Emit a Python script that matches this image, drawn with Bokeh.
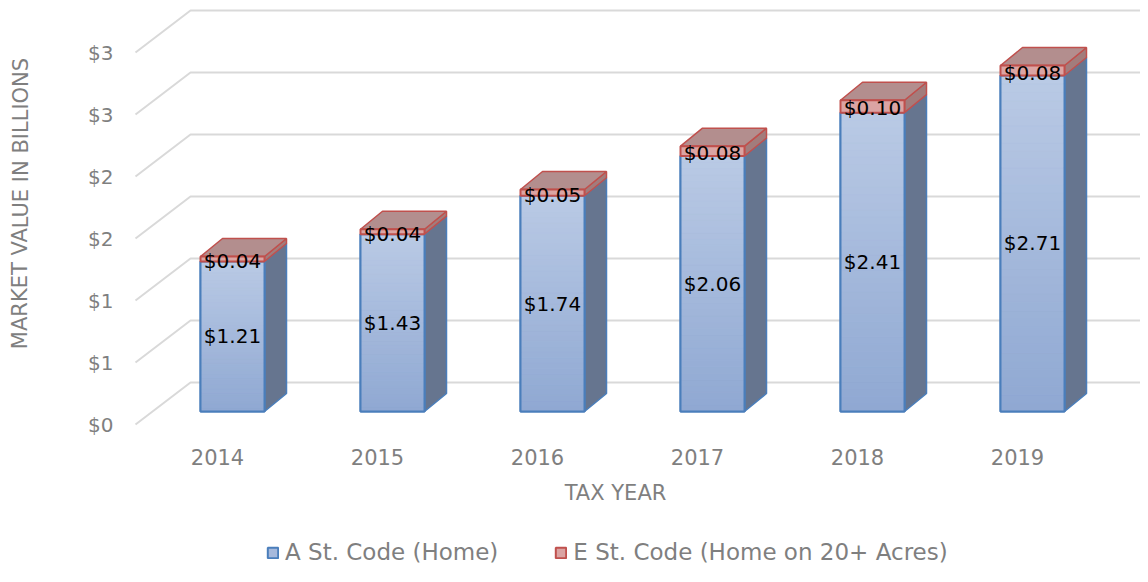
from bokeh.plotting import figure
from bokeh.models import Range1d, Legend, LegendItem, ColumnDataSource
from bokeh.core.properties import value
from bokeh.embed import file_html
from bokeh.resources import INLINE

# ---- data ----
years = ["2014", "2015", "2016", "2017", "2018", "2019"]
a_home = [1.21, 1.43, 1.74, 2.06, 2.41, 2.71]
e_acres = [0.04, 0.04, 0.05, 0.08, 0.10, 0.08]
y_ticks = [0, 0.5, 1.0, 1.5, 2.0, 2.5, 3.0]
y_tick_labels = ["$0", "$1", "$1", "$2", "$2", "$3", "$3"]
series_names = ["A St. Code (Home)", "E St. Code (Home on 20+ Acres)"]

# ---- layout constants (pixels) ----
W, H = 1140, 566
PX = 160.0   # px per category
PY = 124.0   # px per billion
FONT = "DejaVu Sans"
GRAY = "#7f7f7f"

x0 = -232 / PX
x1 = x0 + W / PX
y1 = 411 / PY
y0 = y1 - H / PY

BW = 32 / PX          # half bar width
DX = 22 / PX          # depth offset x
DY = 18 / PY          # depth offset y
XF = (135 - 232) / PX  # front edge of floor
XB = (190 - 232) / PX  # back wall start
GF = 13 / PY           # front plane below bar plane
GB = 29 / PY           # back plane above bar plane


def mix(c1, c2, t):
    a = [int(c1[k:k + 2], 16) for k in (1, 3, 5)]
    b = [int(c2[k:k + 2], 16) for k in (1, 3, 5)]
    return "#%02x%02x%02x" % tuple(round(x + (y - x) * t) for x, y in zip(a, b))


p = figure(width=W, height=H, x_range=Range1d(x0, x1), y_range=Range1d(y0, y1),
           output_backend="svg", toolbar_location=None, min_border=0,
           x_axis_location=None, y_axis_location=None)
p.grid.visible = False
p.outline_line_color = None
p.background_fill_color = "white"

# ---- gridlines (back wall + floor diagonals) ----
gx, gy = [], []
for v in y_ticks:
    gx.append([XF, XB, x1 + 1])
    gy.append([v - GF, v + GB, v + GB])
p.multi_line(xs=gx, ys=gy, line_color="#d9d9d9", line_width=2)

# ---- y tick labels (front plane) ----
p.text(x=[(113 - 232) / PX] * len(y_ticks), y=[v - GF for v in y_ticks], text=y_tick_labels,
       text_align="right", text_baseline="middle", text_font=value(FONT),
       text_font_size="20px", text_color=GRAY)

# ---- bars ----
idx = list(range(len(years)))
tops = [a + e for a, e in zip(a_home, e_acres)]

blue_src = ColumnDataSource(dict(left=[i - BW for i in idx], right=[i + BW for i in idx],
                                 bottom=[0] * len(idx), top=a_home))
red_src = ColumnDataSource(dict(left=[i - BW for i in idx], right=[i + BW for i in idx],
                                bottom=a_home, top=tops))

BLUE_LINE = "#4a7ebb"
RED_LINE = "#c0504d"
F_TOP, F_BOT = "#bacae5", "#8fa8d2"     # blue front gradient

# front-face gradient bands
K = 40
fl, fr, fb, ft, fc = [], [], [], [], []
for i, a in zip(idx, a_home):
    for k in range(K):
        fl.append(i - BW); fr.append(i + BW)
        fb.append(a * k / K); ft.append(a * (k + 1) / K)
        fc.append(mix(F_TOP, F_BOT, 1 - (k + 0.5) / K))

bs_x, bs_y, rs_x, rs_y, rt_x, rt_y = [], [], [], [], [], []
for i, a, t in zip(idx, a_home, tops):
    r = i + BW
    l = i - BW
    bs_x.append([r, r + DX, r + DX, r])
    bs_y.append([0, DY, a + DY, a])
    rs_x.append([r, r + DX, r + DX, r])
    rs_y.append([a, a + DY, t + DY, t])
    rt_x.append([l, r, r + DX, l + DX])
    rt_y.append([t, t, t + DY, t + DY])

p.patches(bs_x, bs_y, fill_color="#66758f", line_color=BLUE_LINE, line_width=1.5)
p.patches(rs_x, rs_y, fill_color="#a27c7c", line_color=RED_LINE, line_width=1.5)
p.patches(rt_x, rt_y, fill_color="#b38e8e", line_color=RED_LINE, line_width=1.5)

blue = p.quad(left="left", right="right", bottom="bottom", top="top", source=blue_src,
              fill_color="#a6b9dc", line_color=BLUE_LINE, line_width=2)
p.quad(left=fl, right=fr, bottom=fb, top=ft, fill_color=fc, line_color=fc, line_width=0.6)
p.quad(left="left", right="right", bottom="bottom", top="top", source=blue_src,
       fill_alpha=0, line_color=BLUE_LINE, line_width=2)
red = p.quad(left="left", right="right", bottom="bottom", top="top", source=red_src,
             fill_color="#dba4a3", line_color=RED_LINE, line_width=2)

# ---- data labels ----
p.text(x=idx, y=[a / 2 for a in a_home], text=[f"${a:.2f}" for a in a_home],
       text_align="center", text_baseline="middle", text_font=value(FONT),
       text_font_size="20px", text_color="black")
p.text(x=idx, y=[a + e / 2 - 2 / PY for a, e in zip(a_home, e_acres)],
       text=[f"${e:.2f}" for e in e_acres],
       text_align="center", text_baseline="middle", text_font=value(FONT),
       text_font_size="20px", text_color="black")

# ---- x tick labels ----
p.text(x=[i - 15 / PX for i in idx], y=[-(456 - 411) / PY] * len(idx), text=years,
       text_align="center", text_baseline="middle", text_font=value(FONT),
       text_font_size="21px", text_color=GRAY)

# ---- axis titles ----
p.text(x=[(615 - 232) / PX], y=[-(492 - 411) / PY], text=["TAX YEAR"],
       text_align="center", text_baseline="middle", text_font=value(FONT),
       text_font_size="21px", text_color=GRAY)
p.text(x=[(20 - 232) / PX], y=[(411 - 203) / PY], text=["MARKET VALUE IN BILLIONS"],
       angle=1.5707963, text_align="center", text_baseline="middle", text_font=value(FONT),
       text_font_size="21px", text_color=GRAY)

# ---- legend ----
legend = Legend(items=[LegendItem(label=series_names[0], renderers=[blue]),
                       LegendItem(label=series_names[1], renderers=[red])],
                orientation="horizontal", location=(266, 1),
                glyph_width=13, glyph_height=13, label_standoff=6, spacing=56,
                padding=0, margin=0, border_line_color=None, background_fill_alpha=0,
                label_text_font=FONT, label_text_font_size="23px", label_text_color=GRAY)
p.add_layout(legend)

open("out.html", "w").write(file_html(p, INLINE))
